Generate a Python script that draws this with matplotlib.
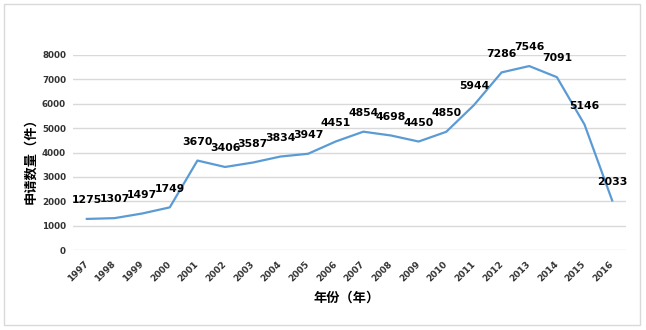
import matplotlib
matplotlib.use("Agg")
import matplotlib.pyplot as plt
from matplotlib.patches import Rectangle

plt.rcParams['font.family'] = ['Noto Sans CJK SC', 'DejaVu Sans']

# data
years = [str(y) for y in range(1997, 2017)]
counts = [1275, 1307, 1497, 1749, 3670, 3406, 3587, 3834, 3947, 4451,
          4854, 4698, 4450, 4850, 5944, 7286, 7546, 7091, 5146, 2033]
y_ticks = [0, 1000, 2000, 3000, 4000, 5000, 6000, 7000, 8000]

fig = plt.figure(figsize=(6.46, 3.30), dpi=100)
ax = fig.add_axes([73 / 646, 1 - 250 / 330, 553 / 646, 195 / 330])

x = list(range(len(years)))
ax.plot(x, counts, color="#5B9BD5", linewidth=1.6, solid_joinstyle="round")

# data labels sit centered above each point
for xi, v in zip(x, counts):
    ax.annotate(str(v), (xi, v), xytext=(0, 13.5), textcoords="offset points",
                ha="center", va="center", fontsize=7.8, fontweight="bold",
                family="DejaVu Sans", color="black")

ax.set_xlim(-0.5, len(years) - 0.5)
ax.set_ylim(0, 8000)
ax.set_yticks(y_ticks)
ax.set_yticklabels([str(t) for t in y_ticks], fontsize=6.3, fontweight="bold",
                   color="#333333", family="DejaVu Sans")
ax.set_xticks(x)
ax.set_xticklabels(years, rotation=45, ha="right", va="center",
                   rotation_mode="anchor", fontsize=6.5, fontweight="bold",
                   color="#333333", family="DejaVu Sans")
ax.tick_params(axis="both", length=0)
ax.tick_params(axis="y", pad=5)
ax.tick_params(axis="x", pad=9)

ax.grid(axis="y", color="#D9D9D9", linewidth=1)
ax.set_axisbelow(True)
for s in ax.spines.values():
    s.set_visible(False)

fig.text(347 / 646, 1 - 298 / 330, "年份（年）", ha="center", va="center",
         fontsize=9.5, fontweight="bold")
fig.text(30 / 646, 1 - 158 / 330, "申请数量（件）", ha="center", va="center",
         rotation=90, fontsize=9.5, fontweight="bold")

# light frame around the chart area
fig.patches.append(Rectangle((4 / 646, 5 / 330), 636 / 646, 321 / 330,
                             transform=fig.transFigure, fill=False,
                             edgecolor="#D9D9D9", linewidth=1))

fig.savefig("out.png", dpi=100)
